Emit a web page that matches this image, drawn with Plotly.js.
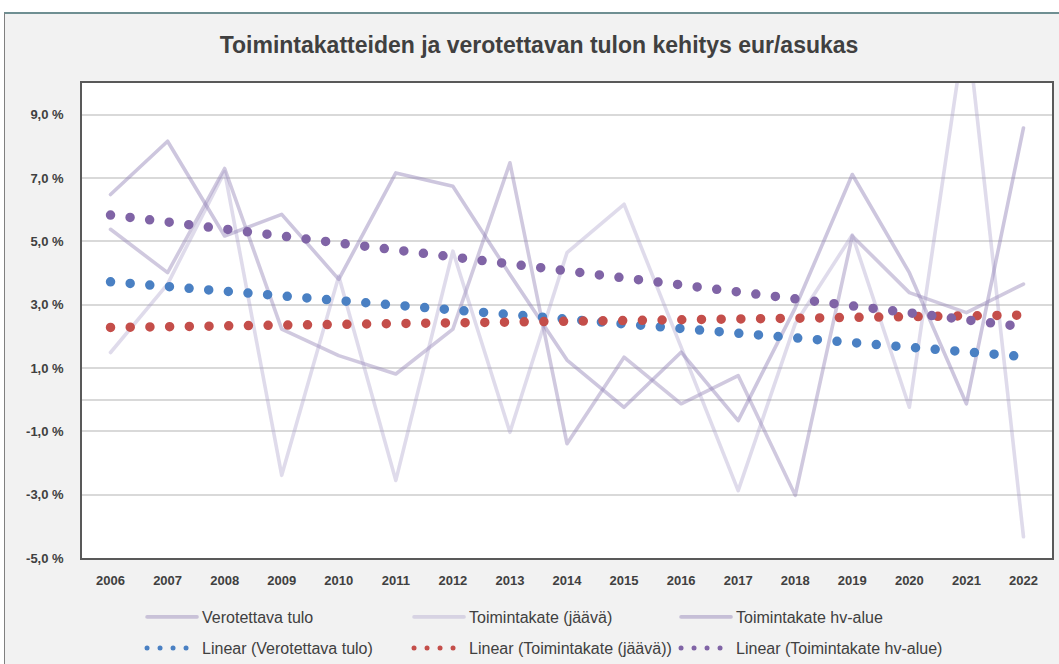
<!DOCTYPE html>
<html>
<head>
<meta charset="utf-8">
<script src="https://cdn.plot.ly/plotly-3.0.1.min.js"></script>
<style>
  html, body { margin: 0; padding: 0; background: #ffffff; }
  #frame { position: absolute; left: 4px; top: 12px; width: 1060px; height: 660px;
           background: #f2f2f2; border-top: 2px solid #6f8f92; border-left: 1px solid #808080; }
  #chart { position: absolute; left: 0; top: 0; width: 1059px; height: 664px; }
  .js-line { stroke-linecap: round !important; stroke-linejoin: round !important; }
</style>
</head>
<body>
<div id="frame"></div>
<div id="chart"></div>
<script>
// ---- data ----
const years = [2006, 2007, 2008, 2009, 2010, 2011, 2012, 2013, 2014, 2015, 2016, 2017, 2018, 2019, 2020, 2021, 2022];
const yearLabels = ['2006','2007','2008','2009','2010','2011','2012','2013','2014','2015','2016','2017','2018','2019','2020','2021','2022'];

const verotettavaTulo = [5.38, 4.01, 7.30, 2.23, 1.39, 0.81, 2.23, 7.48, -1.39, 1.34, -0.13, 0.76, -3.02, 5.17, 3.38, 2.75, 3.65];
const toimintakateJaava = [1.49, 3.65, 7.20, -2.39, 3.90, -2.55, 4.69, -1.03, 4.64, 6.17, 1.66, -2.87, 2.40, 5.20, -0.24, 12.0, -4.33];
const toimintakateHv = [6.48, 8.16, 5.17, 5.85, 3.80, 7.16, 6.74, 3.95, 1.25, -0.24, 1.50, -0.66, 2.90, 7.11, 4.01, -0.13, 8.58];

// linear trend end points (first and last year)
const trendYears = [2006, 2022];
const trendVerotettava = [3.72, 1.36];
const trendJaava = [2.28, 2.67];
const trendHv = [5.83, 2.30];

const seriesNames = ['Verotettava tulo', 'Toimintakate (jäävä)', 'Toimintakate hv-alue'];
const trendNames = ['Linear (Verotettava tulo)', 'Linear (Toimintakate (jäävä))', 'Linear (Toimintakate hv-alue)'];

const yTickVals = [-5, -3, -1, 1, 3, 5, 7, 9];
const yTickText = ['-5,0 %', '-3,0 %', '-1,0 %', '1,0 %', '3,0 %', '5,0 %', '7,0 %', '9,0 %'];

const chartTitle = 'Toimintakatteiden ja verotettavan tulon kehitys eur/asukas';

// ---- styles ----
const FONT = "'Liberation Sans', Arial, sans-serif";
const lineColors = ['rgba(150,135,185,0.45)', 'rgba(165,155,200,0.36)', 'rgba(145,128,182,0.45)'];
const trendColors = ['#4a80c3', '#c44e4a', '#8064a6'];

const seriesData = [verotettavaTulo, toimintakateJaava, toimintakateHv];
const trendData = [trendVerotettava, trendJaava, trendHv];

const traces = [];
seriesData.forEach((vals, i) => {
  traces.push({
    type: 'scatter', mode: 'lines', x: years, y: vals, name: seriesNames[i],
    line: {color: lineColors[i], width: 3.6},
    legend: 'legend', hoverinfo: 'x+y+name'
  });
});
trendData.forEach((vals, i) => {
  traces.push({
    type: 'scatter', mode: 'lines', x: trendYears, y: vals, name: trendNames[i],
    line: {color: trendColors[i], width: 9.5, dash: '0px,19.7px'},
    showlegend: false, hoverinfo: 'skip'
  });
});
// legend-only entries for the trend lines (smaller dots like the reference legend)
trendNames.forEach((nm, i) => {
  traces.push({
    type: 'scatter', mode: 'lines', x: [null], y: [null], name: nm,
    line: {color: trendColors[i], width: 5, dash: '0px,13px'},
    legend: 'legend2', hoverinfo: 'skip'
  });
});

const legendCommon = {
  orientation: 'h', entrywidth: 202, entrywidthmode: 'pixels', itemwidth: 50,
  font: {family: FONT, size: 16, color: '#404040'},
  bgcolor: 'rgba(0,0,0,0)', borderwidth: 0,
  xref: 'paper', x: 0.0619, xanchor: 'left', yanchor: 'middle',
  itemclick: false, itemdoubleclick: false
};

const layout = {
  width: 1059, height: 664,
  margin: {l: 82, r: 7, t: 83, b: 106, autoexpand: false},
  paper_bgcolor: 'rgba(0,0,0,0)',
  plot_bgcolor: '#ffffff',
  title: {
    text: chartTitle,
    font: {family: FONT, size: 23, color: '#404040', weight: 'bold'},
    x: 0.509, xref: 'container', xanchor: 'center',
    y: 0.932, yref: 'container', yanchor: 'middle'
  },
  xaxis: {
    range: [2005.5, 2022.5], tickvals: years, ticktext: yearLabels,
    showgrid: false, zeroline: false, ticks: '',
    showline: true, mirror: true, linecolor: '#595959', linewidth: 1.5,
    tickfont: {family: FONT, size: 13, color: '#404040', weight: 'bold'},
    ticklabelstandoff: 10, fixedrange: true, automargin: false
  },
  yaxis: {
    range: [-5, 10], tickvals: yTickVals, ticktext: yTickText,
    showgrid: true, gridcolor: '#d9d9d9', gridwidth: 1.5,
    zeroline: true, zerolinecolor: '#d9d9d9', zerolinewidth: 1.5,
    ticks: '', showline: true, mirror: true, linecolor: '#595959', linewidth: 1.5,
    tickfont: {family: FONT, size: 13, color: '#404040', weight: 'bold'},
    ticklabelstandoff: 14, fixedrange: true, automargin: false
  },
  showlegend: true,
  legend: Object.assign({}, legendCommon, {y: -0.1242}),
  legend2: Object.assign({}, legendCommon, {y: -0.1895}),
  hovermode: 'closest'
};

Plotly.newPlot('chart', traces, layout, {displayModeBar: false, responsive: false});
</script>
</body>
</html>
